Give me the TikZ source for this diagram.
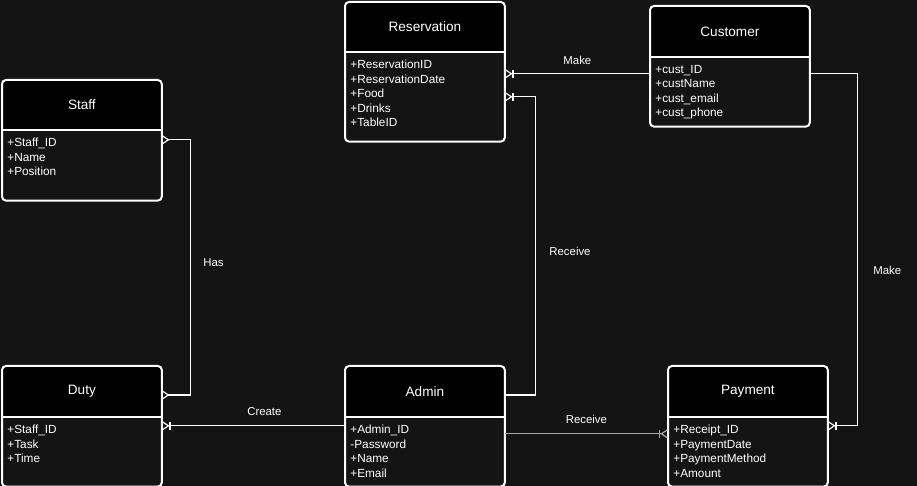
\documentclass[tikz,border=0pt]{standalone}
\usepackage{fontspec}
\setmainfont{Liberation Sans}
\usetikzlibrary{arrows.meta,backgrounds}

\definecolor{bgdark}{HTML}{141414}
\definecolor{linegrey}{HTML}{A6A6A6}

\tikzset{
  ehead/.style={anchor=north west, minimum width=79.5pt, inner sep=0pt, text=white,
    font=\fontsize{6.8}{8}\selectfont},
  ebody/.style={anchor=north west, minimum width=79.5pt, inner sep=0pt},
  eattr/.style={anchor=north west, inner sep=0pt, align=left, text=white,
    font=\fontsize{5.9}{7.25}\selectfont},
  eline/.style={draw=white, line width=1pt},
  rel/.style={draw=white, line width=0.6pt},
  lbl/.style={inner sep=0pt, text=white, font=\fontsize{5.7}{7}\selectfont},
  crow/.tip={Straight Barb[reversed, length=3pt, width=4pt]},
  crowbar/.tip={Bar[width=4pt] Straight Barb[reversed, length=3pt, width=4pt]},
}

% entity box: name, left, top, header height, body height, title, rows
\newcommand{\entity}[7]{%
  \node[ehead, minimum height=#4*0.5pt] (#1) at (#2,#3) {#6};
  \node[ebody, minimum height=#5*0.5pt] (#1-b) at (#1.south west) {};
  \node[eattr] (#1-a) at ([shift={(5,8)}]#1-b.north west) {#7};
  \begin{scope}[on background layer]
    \fill[black] (#1.south west) [rounded corners=2pt] -- (#1.north west)
      -- (#1.north east) [sharp corners] -- (#1.south east) -- cycle;
  \end{scope}
  \draw[eline] (#1.south west) -- (#1.south east);
  \draw[eline, rounded corners=2pt] (#1.north west) rectangle (#1-b.south east);
}

\begin{document}
\begin{tikzpicture}[x=0.5pt, y=-0.5pt]
  \begin{scope}[on background layer]
    \fill[bgdark] (0,0) rectangle (917,486);
  \end{scope}
  \useasboundingbox (0,0) rectangle (917,486);

  % entities
  \entity{resv}{345}{2}{49}{89}{Reservation}{+ReservationID\\+ReservationDate\\+Food\\+Drinks\\+TableID}
  \entity{cust}{650}{6}{50}{69}{Customer}{+cust\_ID\\+custName\\+cust\_email\\+cust\_phone}
  \entity{staff}{2}{80}{49}{70}{Staff}{+Staff\_ID\\+Name\\+Position}
  \entity{duty}{2}{366}{50}{69}{Duty}{+Staff\_ID\\+Task\\+Time}
  \entity{admin}{345}{366}{50}{69}{Admin}{+Admin\_ID\\-Password\\+Name\\+Email}
  \entity{pay}{668}{366}{50}{69}{Payment}{+Receipt\_ID\\+PaymentDate\\+PaymentMethod\\+Amount}

  % relations
  \draw[rel, -{crowbar}] ([shift={(0,17)}]cust-b.north west)
    -- node[lbl, above=4.5pt] (make1) {Make} ([shift={(0,22)}]resv-b.north east);
  \draw[rel, -{crowbar}] ([shift={(0,29)}]admin.north east) -- ++(31,0)
    |- node[lbl, pos=0.24, right=6.5pt] (recv1) {Receive} ([shift={(0,45)}]resv-b.north east);
  \draw[rel, {crow}-{crow}] ([shift={(0,10)}]staff-b.north east) -- ++(29,0)
    |- node[lbl, pos=0.24, right=6pt] (has) {Has} ([shift={(0,29)}]duty.north east);
  \draw[rel, -{crowbar}] ([shift={(0,9)}]admin-b.north west)
    -- node[lbl, pos=0.44, above=5pt] (create) {Create} ([shift={(0,9)}]duty-b.north east);
  \draw[rel, draw=linegrey, -{crowbar}] ([shift={(0,17)}]admin-b.north east)
    -- node[lbl, above=5pt] (recv2) {Receive} ([shift={(0,17)}]pay-b.north west);
  \draw[rel, -{crowbar}] ([shift={(0,17)}]cust-b.north east) -- ++(48,0)
    |- node[lbl, pos=0.28, right=7.5pt] (make2) {Make} ([shift={(0,9)}]pay-b.north east);
\end{tikzpicture}
\end{document}
